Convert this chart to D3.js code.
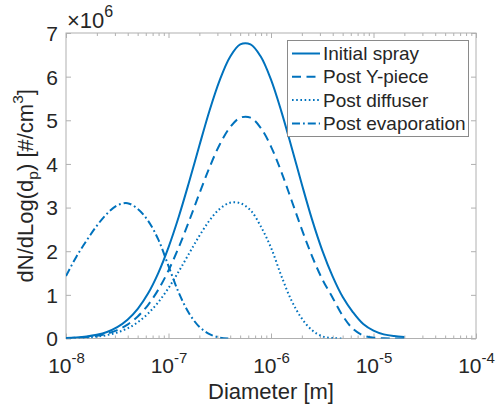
<!DOCTYPE html>
<html><head><meta charset="utf-8">
<script src="https://cdn.jsdelivr.net/npm/d3@7"></script>
<style>
body{margin:0;background:#fff}
svg{display:block}
text{font-family:"Liberation Sans",Arial,Helvetica,sans-serif;fill:#262626}
</style>
</head><body><svg id="c" width="500" height="410"></svg>
<script>
// log10 of diameter [m]
const logDiameter = [-8.0,-7.9,-7.8,-7.7,-7.6,-7.5,-7.4,-7.3,-7.2,-7.1,-7.0,-6.9,-6.8,-6.7,-6.6,-6.5,-6.4,-6.3,-6.2,-6.1,-6.0,-5.9,-5.8,-5.7,-5.6,-5.5,-5.4,-5.3,-5.2,-5.1,-5.0,-4.9,-4.8,-4.7];
// dN/dLog(dp) in units of 1e6 #/cm^3
const initialSpray   = [0.012,0.024,0.046,0.085,0.15,0.26,0.43,0.68,1.03,1.5,2.09,2.79,3.58,4.41,5.22,5.92,6.45,6.74,6.74,6.46,5.93,5.21,4.39,3.54,2.73,2.02,1.43,0.95,0.6,0.33,0.18,0.095,0.055,0.035];
const postYPiece     = [0.0085,0.017,0.033,0.063,0.112,0.193,0.319,0.505,0.767,1.117,1.559,2.09,2.687,3.314,3.919,4.446,4.838,5.06,5.06,4.826,4.398,3.822,3.168,2.505,1.889,1.36,0.94,0.52,0.22,0.07,0.02,0.005,0.0,0.0];
const postDiffuser   = [0.005,0.011,0.022,0.042,0.079,0.138,0.232,0.373,0.57,0.831,1.157,1.536,1.944,2.347,2.703,2.97,3.11,3.10,2.94,2.57,2.08,1.44,0.87,0.46,0.19,0.05,0.01,0.0,null,null,null,null,null,null];
const postEvaporation= [1.43,1.87,2.24,2.58,2.86,3.05,3.10,2.97,2.70,2.27,1.66,1.05,0.58,0.27,0.10,0.02,0.0,null,null,null,null,null,null,null,null,null,null,null,null,null,null,null,null,null];
const seriesNames = ["Initial spray","Post Y-piece","Post diffuser","Post evaporation"];
const xTickExponents = [-8,-7,-6,-5,-4];
const yTickValues = [0,1,2,3,4,5,6,7];

const seriesValues = [initialSpray, postYPiece, postDiffuser, postEvaporation];
const dashes = [null, "9,5.5", "1.6,2.6", "8,3,1.8,3"];
const color = "#0072BD", axisColor = "#b0b0b0";

const svg = d3.select("#c");
const L = 66, R = 476, T = 33, B = 338.5;
const x = d3.scaleLog().domain([1e-8, 1e-4]).range([L, R]);
const y = d3.scaleLinear().domain([0, 7]).range([B, T]);

// minor ticks
const minors = [];
xTickExponents.slice(0, -1).forEach(e => { for (let k = 2; k <= 9; k++) minors.push(k * Math.pow(10, e)); });
const majors = xTickExponents.map(e => Math.pow(10, e));

function styleAxis(g) {
  g.select(".domain").remove();
  g.selectAll(".tick line").attr("stroke", axisColor).attr("stroke-width", 1);
}

svg.append("g").attr("transform", `translate(0,${B})`)
  .call(d3.axisBottom(x).tickValues(minors).tickSize(-3).tickFormat("")).call(styleAxis);
svg.append("g").attr("transform", `translate(0,${T})`)
  .call(d3.axisTop(x).tickValues(minors).tickSize(-3).tickFormat("")).call(styleAxis);
svg.append("g").attr("transform", `translate(0,${T})`)
  .call(d3.axisTop(x).tickValues(majors).tickSize(-5).tickFormat("")).call(styleAxis);

const xb = svg.append("g").attr("transform", `translate(0,${B})`)
  .call(d3.axisBottom(x).tickValues(majors).tickSize(-5).tickFormat("")).call(styleAxis);
xb.selectAll(".tick").each(function(d) {
  const e = Math.round(Math.log10(d));
  const t = d3.select(this).select("text").attr("y", 34).attr("dy", 0)
    .attr("font-size", 21).attr("text-anchor", "middle").attr("fill", "#262626");
  t.text(null);
  t.append("tspan").text("10");
  t.append("tspan").attr("font-size", 15).attr("dy", -10).text(String(e));
});

const yl = svg.append("g").attr("transform", `translate(${L},0)`)
  .call(d3.axisLeft(y).tickValues(yTickValues).tickSize(-5).tickPadding(8).tickFormat(d3.format("d"))).call(styleAxis);
yl.selectAll(".tick text").attr("font-size", 21).attr("fill", "#262626").attr("dy", "0.35em");
svg.append("g").attr("transform", `translate(${R},0)`)
  .call(d3.axisRight(y).tickValues(yTickValues).tickSize(-5).tickFormat("")).call(styleAxis);

// box
svg.append("rect").attr("x", L).attr("y", T).attr("width", R - L).attr("height", B - T)
  .attr("fill", "none").attr("stroke", axisColor).attr("stroke-width", 1);

// clip
svg.append("clipPath").attr("id", "clip").append("rect")
  .attr("x", L).attr("y", T - 2).attr("width", R - L).attr("height", B - T + 2);

const line = d3.line()
  .defined(d => d[1] !== null)
  .x(d => x(Math.pow(10, d[0])))
  .y(d => y(Math.max(0, d[1])))
  .curve(d3.curveCatmullRom.alpha(0.5));

const plot = svg.append("g").attr("clip-path", "url(#clip)");
seriesValues.forEach((vals, i) => {
  const pts = logDiameter.map((l, j) => [l, vals[j]]);
  plot.append("path").datum(pts)
    .attr("d", line)
    .attr("fill", "none").attr("stroke", color).attr("stroke-width", 2)
    .attr("stroke-dasharray", dashes[i]);
});

// exponent label
const ex = svg.append("text").attr("x", 67).attr("y", 28).attr("font-size", 22);
ex.append("tspan").text("\u00d710");
ex.append("tspan").attr("font-size", 16).attr("dy", -11).text("6");

// axis labels
svg.append("text").attr("x", (L + R) / 2).attr("y", 399).attr("text-anchor", "middle")
  .attr("font-size", 22).text("Diameter [m]");
const ylab = svg.append("text").attr("transform", `translate(33,${(T + B) / 2}) rotate(-90)`)
  .attr("text-anchor", "middle").attr("font-size", 22);
ylab.append("tspan").text("dN/dLog(d");
ylab.append("tspan").attr("font-size", 15.5).attr("dy", 5).text("p");
ylab.append("tspan").attr("dy", -5).text(") [#/cm");
ylab.append("tspan").attr("font-size", 15.5).attr("dy", -10).text("3");
ylab.append("tspan").attr("dy", 10).text("]");

// legend
const lg = svg.append("g");
lg.append("rect").attr("x", 287.5).attr("y", 40.5).attr("width", 181).attr("height", 96)
  .attr("fill", "#fff").attr("stroke", "#8a8a8a").attr("stroke-width", 1);
seriesNames.forEach((n, i) => {
  const yy = 53.5 + i * 23.3;
  lg.append("line").attr("x1", 292).attr("x2", 320).attr("y1", yy).attr("y2", yy)
    .attr("stroke", color).attr("stroke-width", 2).attr("stroke-dasharray", dashes[i]);
  lg.append("text").attr("x", 323).attr("y", yy).attr("dy", "0.35em").attr("font-size", 19).text(n);
});
</script>
</body></html>
